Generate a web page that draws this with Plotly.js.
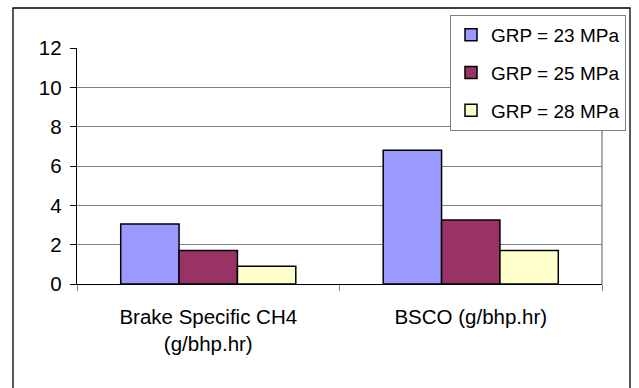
<!DOCTYPE html>
<html>
<head>
<meta charset="utf-8">
<script src="https://cdn.plot.ly/plotly-3.0.1.min.js"></script>
<style>html,body{margin:0;padding:0;background:#fff;}#chart{width:639px;height:388px;}</style>
</head>
<body>
<div id="chart"></div>
<script>
const categories = ["Brake Specific CH4<br>(g/bhp.hr)", "BSCO (g/bhp.hr)"];
const seriesNames = ["GRP = 23 MPa", "GRP = 25 MPa", "GRP = 28 MPa"];
const grp23 = [3.05, 6.8];
const grp25 = [1.7, 3.25];
const grp28 = [0.9, 1.7];
const seriesValues = [grp23, grp25, grp28];
const seriesColors = ["#9999FF", "#993366", "#FFFFCC"];
const yTicks = [0, 2, 4, 6, 8, 10, 12];

const font = "Arial, 'Liberation Sans', sans-serif";

const traces = seriesValues.map((vals, i) => ({
  type: "bar",
  x: categories,
  y: vals,
  name: seriesNames[i],
  legendgroup: "g" + i,
  marker: {color: seriesColors[i], line: {color: "#000000", width: 1.5}},
  hoverinfo: "skip"
}));

const L = 77, R = 37, T = 48, B = 104;
const W = 639, H = 388;
const pw = W - L - R, ph = H - T - B;
function px2x(p) { return (p - L) / pw; }
function py2y(p) { return (H - B - p) / ph; }

const layout = {
  width: W, height: H,
  margin: {l: L, r: R, t: T, b: B, pad: 0, autoexpand: false},
  paper_bgcolor: "#ffffff",
  plot_bgcolor: "#ffffff",
  font: {family: font, size: 20, color: "#000000"},
  barmode: "group",
  bargap: 0.333,
  bargroupgap: 0,
  showlegend: true,
  legend: {
    x: px2x(626), y: py2y(15), xanchor: "right", yanchor: "top",
    bgcolor: "#ffffff", bordercolor: "#808080", borderwidth: 1,
    font: {family: font, size: 19, color: "#000000"},
    traceorder: "grouped",
    tracegroupgap: 10,
    itemclick: false, itemdoubleclick: false
  },
  xaxis: {
    type: "category",
    showline: true, linecolor: "#000000", linewidth: 1.3,
    ticks: "outside", tickson: "boundaries", ticklen: 6, tickcolor: "#808080",
    showgrid: false, zeroline: false,
    tickfont: {family: font, size: 20.5, color: "#000000"},
    ticklabelstandoff: 14,
    automargin: false,
    fixedrange: true
  },
  yaxis: {
    range: [0, 12],
    tickvals: yTicks,
    ticktext: yTicks.map(String),
    showline: true, linecolor: "#000000", linewidth: 1.3,
    ticks: "outside", ticklen: 6, tickcolor: "#000000",
    showgrid: true, gridcolor: "#808080", gridwidth: 1,
    zeroline: false,
    tickfont: {family: font, size: 20.5, color: "#000000"},
    ticklabelstandoff: 4,
    automargin: false,
    fixedrange: true
  },
  shapes: [
    {type: "line", xref: "paper", yref: "paper", x0: 1, x1: 1, y0: 0, y1: 1,
     line: {color: "#808080", width: 1.3}, layer: "below"},
    {type: "rect", xref: "paper", yref: "paper",
     x0: px2x(13), x1: px2x(630), y0: py2y(400), y1: py2y(8),
     line: {color: "#000000", width: 1.3}, fillcolor: "rgba(0,0,0,0)", layer: "below"}
  ]
};

Plotly.newPlot("chart", traces, layout, {displayModeBar: false, staticPlot: true});
</script>
</body>
</html>
